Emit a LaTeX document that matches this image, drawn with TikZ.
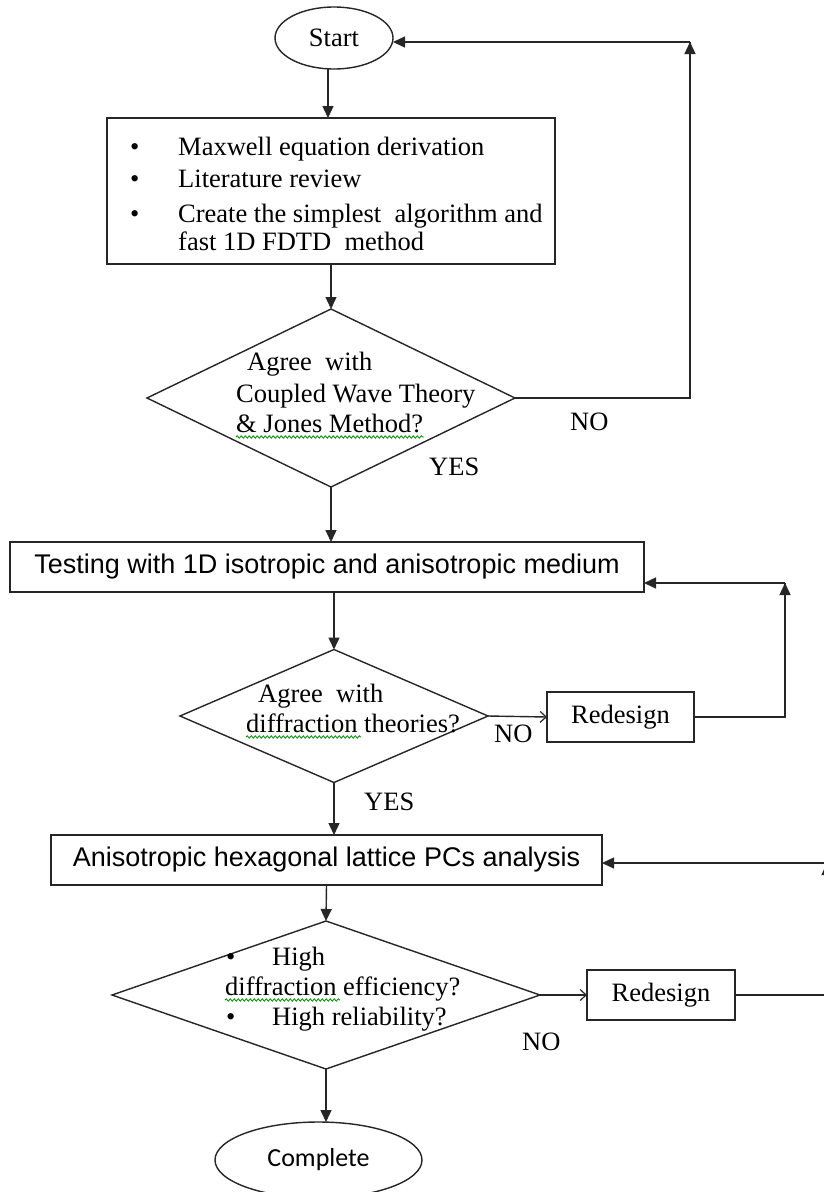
\documentclass[tikz,border=0pt]{standalone}
\usepackage{fontspec}
\setmainfont{Liberation Serif}
\newfontfamily\arialf{Liberation Sans}
\newfontfamily\calibrif{Carlito}
\usetikzlibrary{shapes.geometric,arrows.meta,decorations.pathmorphing}
\tikzset{
  ln/.style={line width=1.4pt, draw=black!85},
  arr/.style={ln, -{Triangle[length=12pt,width=11pt]}},
  oarr/.style={ln, -{Straight Barb[length=6pt,width=11pt,line width=1.2pt]}},
  boxn/.style={draw=black!85, line width=1.4pt, rectangle, inner sep=0pt, outer sep=0pt},
  dia/.style={draw=black!85, line width=1.4pt, diamond, inner sep=0pt, outer sep=0pt},
  ell/.style={draw=black!85, line width=1.4pt, ellipse, inner sep=0pt, outer sep=0pt},
  ser/.style={font=\fontsize{26.5}{30}\selectfont, inner sep=0pt, anchor=base west},
  sertxt/.style={font=\fontsize{26.5}{30}\selectfont},
  san/.style={font=\arialf\fontsize{27}{30}\selectfont},
  squig/.style={draw=green!55!black, line width=0.8pt, decorate,
    decoration={snake, segment length=4pt, amplitude=1.2pt}},
}
\begin{document}
\begin{tikzpicture}[x=1pt,y=-1pt]
\useasboundingbox (0,0) rectangle (824,1192);
\fill[white] (0,0) rectangle (824,1192);
\clip (0,0) rectangle (824,1192);

% nodes
\node[ell, sertxt, minimum width=118pt, minimum height=62pt] (start) at (334,38) {Start};
\node[boxn, minimum width=448pt, minimum height=146pt] (box1) at (331,191) {};
\node[dia, minimum width=368pt, minimum height=178pt] (d1) at (331,398) {};
\node[boxn, san, minimum width=634pt, minimum height=50pt] (box2) at (327,567) {Testing with 1D isotropic and anisotropic medium};
\node[dia, minimum width=308pt, minimum height=133pt] (d2) at (334,716) {};
\node[boxn, sertxt, minimum width=147pt, minimum height=50pt] (r1) at (620.5,717) {Redesign};
\node[boxn, san, minimum width=551pt, minimum height=50pt] (box3) at (326.5,860) {Anisotropic hexagonal lattice PCs analysis};
\node[dia, minimum width=428pt, minimum height=148pt] (d3) at (326,995) {};
\node[boxn, sertxt, minimum width=148pt, minimum height=50pt] (r2) at (661,995) {Redesign};
\node[ell, font=\calibrif\fontsize{26}{30}\selectfont, minimum width=207pt, minimum height=76pt] (complete) at (318.5,1160) {Complete};

% box1 text
\node[ser] (b1a) at (130,155) {•};
\node[ser] (b1at) at (178,155) {Maxwell equation derivation};
\node[ser] (b1b) at (130,187) {•};
\node[ser] (b1bt) at (178,187) {Literature review};
\node[ser] (b1c) at (130,222) {•};
\node[ser] (b1ct) at (178,222) {Create the simplest\ \ algorithm and};
\node[ser] (b1dt) at (178,250) {fast 1D FDTD\ \ method};

% d1 text
\node[ser] (d1a) at (247,370) {Agree\ \ with};
\node[ser] (d1b) at (236,402) {Coupled Wave Theory};
\node[ser] (d1c) at (236,432) {\& Jones Method?};
\draw[squig] (236,437) -- (424,437);
\node[ser] (no1) at (570,430) {NO};
\node[ser] (yes1) at (429,475) {YES};

% d2 text
\node[ser] (d2a) at (258,702) {Agree\ \ with};
\node[ser] (d2b) at (246,732) {diffraction theories?};
\draw[squig] (246,737) -- (361,737);
\node[ser] (no2) at (494,742) {NO};
\node[ser] (yes2) at (364,810) {YES};

% d3 text
\node[ser] (d3a) at (226,965) {•};
\node[ser] (d3at) at (272,965) {High};
\node[ser] (d3b) at (225,995) {diffraction efficiency?};
\draw[squig] (225,1000) -- (340,1000);
\node[ser] (d3c) at (226,1025) {•};
\node[ser] (d3ct) at (272,1025) {High reliability?};
\node[ser] (no3) at (522,1050) {NO};

% coordinates
\coordinate (c1) at (690,398);
\coordinate (c2) at (690,42);
\coordinate (c3) at (785,717);
\coordinate (c4) at (785,583);
\coordinate (c5) at (827,995);
\coordinate (c6) at (827,863);

% connectors
\draw[arr] ([xshift=-6pt]start.south) -- ([xshift=-3pt]box1.north);
\draw[arr] (box1.south) -- (d1.north);
\draw[ln] (d1.east) -- (c1) -- (c2);
\draw[arr] (c1) -- (c2);
\draw[arr] (c2) -- (c2 -| start.east);
\draw[arr] (d1.south) -- (d1.south |- box2.north);
\draw[arr] (d2.north |- box2.south) -- (d2.north);
\draw[oarr] (d2.east) -- (r1.west);
\draw[ln] (r1.east) -- (c3) -- (c4);
\draw[arr] (c3) -- (c4);
\draw[arr] (c4) -- (c4 -| box2.east);
\draw[arr] (d2.south) -- (d2.south |- box3.north);
\draw[arr] (box3.south) -- (d3.north);
\draw[oarr] (d3.east) -- (r2.west);
\draw[ln] (r2.east) -- (c5) -- (c6);
\draw[arr] (c5) -- (c6);
\draw[arr] (c6) -- (c6 -| box3.east);
\draw[arr] (d3.south) -- (d3.south |- complete.north);
\end{tikzpicture}
\end{document}
